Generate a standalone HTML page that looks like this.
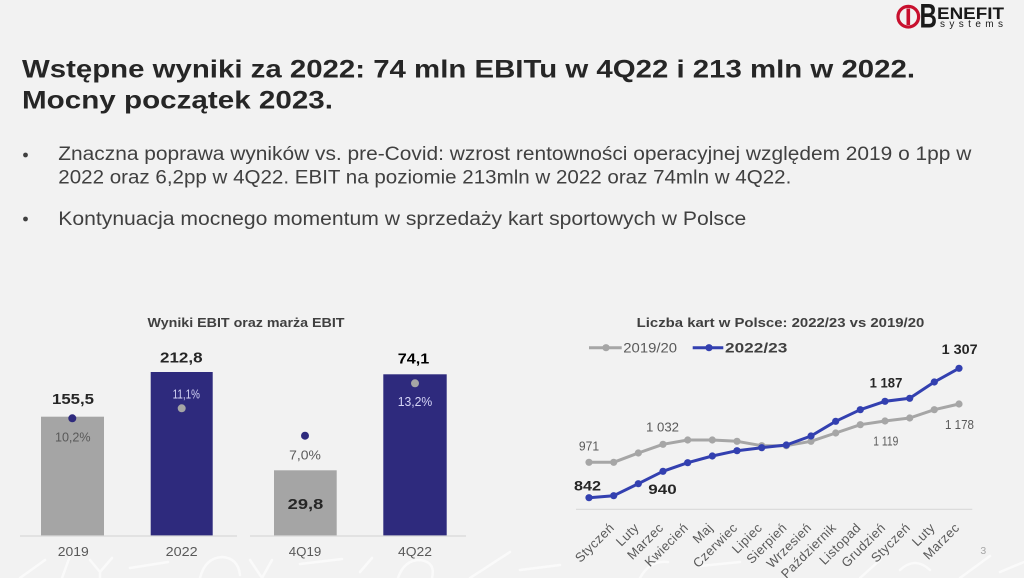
<!DOCTYPE html>
<html>
<head>
<meta charset="utf-8">
<style>
html,body{margin:0;padding:0;background:#f2f2f2;}
svg{display:block;}
text{font-family:"Liberation Sans",Arial,sans-serif;}
</style>
</head>
<body>
<svg width="1024" height="578" viewBox="0 0 1024 578" xmlns="http://www.w3.org/2000/svg">
<rect x="0" y="0" width="1024" height="578" fill="#f2f2f2"/>

<!-- faint bottom decorations -->
<g stroke="#fbfbfb" stroke-width="2.5" fill="none" stroke-linecap="round" opacity="0.9">
  <path d="M20 578 L45 560"/>
  <path d="M62 578 L70 556"/>
  <path d="M90 560 L100 572 L112 558 M100 572 L100 578"/>
  <path d="M130 568 L168 562"/>
  <path d="M200 578 Q205 558 222 557 Q238 558 240 575"/>
  <path d="M250 560 L262 578 L272 560"/>
  <path d="M300 564 L342 559"/>
  <path d="M360 572 L372 558"/>
  <path d="M398 578 Q404 560 420 560 Q436 562 432 578"/>
  <path d="M470 578 L510 552"/>
  <path d="M520 570 L560 565"/>
  <path d="M640 578 Q650 560 668 562"/>
  <path d="M700 566 L740 562"/>
  <path d="M860 578 L880 560"/>
  <path d="M900 570 Q915 556 930 570"/>
  <path d="M960 578 L990 556"/>
  <path d="M1000 572 L1024 562"/>
</g>

<!-- logo -->
<g>
  <circle cx="908.3" cy="16.7" r="10.3" fill="none" stroke="#c8102e" stroke-width="3.2"/>
  <rect x="906.5" y="8.5" width="3.6" height="16.5" fill="#c8102e"/>
  <text x="919.5" y="27.5" font-size="34" font-weight="bold" fill="#1a1a1a" textLength="17.5" lengthAdjust="spacingAndGlyphs">B</text>
  <text x="937" y="19" font-size="17" font-weight="bold" fill="#1a1a1a" textLength="67" lengthAdjust="spacingAndGlyphs">ENEFIT</text>
  <text x="940" y="27" font-size="10" fill="#1a1a1a" textLength="63" lengthAdjust="spacing">systems</text>
</g>

<!-- title -->
<text x="22" y="77.5" font-size="25" font-weight="bold" fill="#262626" textLength="893" lengthAdjust="spacingAndGlyphs">Wstępne wyniki za 2022: 74 mln EBITu w 4Q22 i 213 mln w 2022.</text>
<text x="22" y="108.5" font-size="25" font-weight="bold" fill="#262626" textLength="311" lengthAdjust="spacingAndGlyphs">Mocny początek 2023.</text>

<!-- bullets -->
<circle cx="25.5" cy="155" r="2.4" fill="#404040"/>
<text x="58.3" y="160" font-size="19" fill="#404040" textLength="913" lengthAdjust="spacingAndGlyphs">Znaczna poprawa wyników vs. pre-Covid: wzrost rentowności operacyjnej względem 2019 o 1pp w</text>
<text x="58.3" y="183.3" font-size="19" fill="#404040" textLength="733" lengthAdjust="spacingAndGlyphs">2022 oraz 6,2pp w 4Q22. EBIT na poziomie 213mln w 2022 oraz 74mln w 4Q22.</text>
<circle cx="25.5" cy="219" r="2.4" fill="#404040"/>
<text x="58.3" y="225" font-size="19" fill="#404040" textLength="688" lengthAdjust="spacingAndGlyphs">Kontynuacja mocnego momentum w sprzedaży kart sportowych w Polsce</text>

<!-- LEFT CHART -->
<text x="246" y="327" font-size="12.5" font-weight="bold" fill="#404040" text-anchor="middle" textLength="197" lengthAdjust="spacingAndGlyphs">Wyniki EBIT oraz marża EBIT</text>

<rect x="41" y="416.7" width="63" height="119.3" fill="#a5a5a5"/>
<rect x="150.7" y="372" width="62" height="164" fill="#2e2a7d"/>
<rect x="274" y="470.3" width="62.7" height="65.7" fill="#a5a5a5"/>
<rect x="383.3" y="374.3" width="63.4" height="161.7" fill="#2e2a7d"/>

<line x1="20" y1="536" x2="237" y2="536" stroke="#d9d9d9" stroke-width="1.2"/>
<line x1="250" y1="536" x2="466" y2="536" stroke="#d9d9d9" stroke-width="1.2"/>

<circle cx="72.3" cy="418.3" r="4" fill="#2e2a7d"/>
<circle cx="181.7" cy="408.3" r="4" fill="#a5a5a5"/>
<circle cx="305" cy="435.7" r="4" fill="#2e2a7d"/>
<circle cx="415" cy="383.3" r="4" fill="#a5a5a5"/>

<text x="73" y="404" font-size="14.5" font-weight="bold" fill="#262626" text-anchor="middle" textLength="42" lengthAdjust="spacingAndGlyphs">155,5</text>
<text x="181.3" y="362.7" font-size="14.5" font-weight="bold" fill="#262626" text-anchor="middle" textLength="42.5" lengthAdjust="spacingAndGlyphs">212,8</text>
<text x="413.5" y="363.3" font-size="14.5" font-weight="bold" fill="#000" text-anchor="middle" textLength="31.5" lengthAdjust="spacingAndGlyphs">74,1</text>
<text x="305.5" y="509" font-size="14.5" font-weight="bold" fill="#262626" text-anchor="middle" textLength="35.6" lengthAdjust="spacingAndGlyphs">29,8</text>

<text x="72.8" y="441.7" font-size="13" fill="#595959" text-anchor="middle" textLength="35.7" lengthAdjust="spacingAndGlyphs">10,2%</text>
<text x="186.3" y="398.3" font-size="13" fill="#d4d4f5" text-anchor="middle" textLength="27.3" lengthAdjust="spacingAndGlyphs">11,1%</text>
<text x="305" y="459.3" font-size="13" fill="#595959" text-anchor="middle" textLength="31.7" lengthAdjust="spacingAndGlyphs">7,0%</text>
<text x="415" y="406" font-size="13" fill="#d4d4f5" text-anchor="middle" textLength="34.6" lengthAdjust="spacingAndGlyphs">13,2%</text>

<text x="73.3" y="556" font-size="13" fill="#595959" text-anchor="middle" textLength="31" lengthAdjust="spacingAndGlyphs">2019</text>
<text x="181.7" y="556" font-size="13" fill="#595959" text-anchor="middle" textLength="32" lengthAdjust="spacingAndGlyphs">2022</text>
<text x="305" y="556" font-size="13" fill="#595959" text-anchor="middle" textLength="32.5" lengthAdjust="spacingAndGlyphs">4Q19</text>
<text x="415" y="556" font-size="13" fill="#595959" text-anchor="middle" textLength="34" lengthAdjust="spacingAndGlyphs">4Q22</text>

<!-- RIGHT CHART -->
<text x="780.5" y="327" font-size="13" font-weight="bold" fill="#404040" text-anchor="middle" textLength="287.6" lengthAdjust="spacingAndGlyphs">Liczba kart w Polsce: 2022/23 vs 2019/20</text>

<!-- legend -->
<line x1="589" y1="347.7" x2="621.7" y2="347.7" stroke="#a6a6a6" stroke-width="3"/>
<circle cx="606" cy="347.7" r="3.6" fill="#a6a6a6"/>
<text x="623.3" y="352.5" font-size="13.5" fill="#595959" textLength="53.7" lengthAdjust="spacingAndGlyphs">2019/20</text>
<line x1="692.7" y1="347.7" x2="723.3" y2="347.7" stroke="#3340b0" stroke-width="3"/>
<circle cx="709" cy="347.7" r="3.6" fill="#3340b0"/>
<text x="725" y="352.5" font-size="13.5" font-weight="bold" fill="#404040" textLength="62.3" lengthAdjust="spacingAndGlyphs">2022/23</text>

<line x1="576" y1="509.3" x2="972.3" y2="509.3" stroke="#d9d9d9" stroke-width="1.2"/>

<!-- grey series -->
<polyline fill="none" stroke="#a6a6a6" stroke-width="3" stroke-linejoin="round"
 points="589,462.3 613.7,462.3 638.3,453 663,444.3 687.7,440 712.3,440 737,441.3 761.7,445.7 786.3,445.7 811,441.3 835.7,433 860.3,424.7 885,421 909.7,418 934.3,409.7 959,404"/>
<g fill="#a6a6a6">
<circle cx="589" cy="462.3" r="3.6"/><circle cx="613.7" cy="462.3" r="3.6"/><circle cx="638.3" cy="453" r="3.6"/><circle cx="663" cy="444.3" r="3.6"/>
<circle cx="687.7" cy="440" r="3.6"/><circle cx="712.3" cy="440" r="3.6"/><circle cx="737" cy="441.3" r="3.6"/><circle cx="761.7" cy="445.7" r="3.6"/>
<circle cx="786.3" cy="445.7" r="3.6"/><circle cx="811" cy="441.3" r="3.6"/><circle cx="835.7" cy="433" r="3.6"/><circle cx="860.3" cy="424.7" r="3.6"/>
<circle cx="885" cy="421" r="3.6"/><circle cx="909.7" cy="418" r="3.6"/><circle cx="934.3" cy="409.7" r="3.6"/><circle cx="959" cy="404" r="3.6"/>
</g>

<!-- blue series -->
<polyline fill="none" stroke="#3340b0" stroke-width="3" stroke-linejoin="round"
 points="589,497.7 613.7,495.7 638.3,483.7 663,471.3 687.7,462.7 712.3,456 737,450.7 761.7,447.7 786.3,445 811,436 835.7,421.3 860.3,409.7 885,401.3 909.7,398.3 934.3,382 959,368.3"/>
<g fill="#3340b0">
<circle cx="589" cy="497.7" r="3.6"/><circle cx="613.7" cy="495.7" r="3.6"/><circle cx="638.3" cy="483.7" r="3.6"/><circle cx="663" cy="471.3" r="3.6"/>
<circle cx="687.7" cy="462.7" r="3.6"/><circle cx="712.3" cy="456" r="3.6"/><circle cx="737" cy="450.7" r="3.6"/><circle cx="761.7" cy="447.7" r="3.6"/>
<circle cx="786.3" cy="445" r="3.6"/><circle cx="811" cy="436" r="3.6"/><circle cx="835.7" cy="421.3" r="3.6"/><circle cx="860.3" cy="409.7" r="3.6"/>
<circle cx="885" cy="401.3" r="3.6"/><circle cx="909.7" cy="398.3" r="3.6"/><circle cx="934.3" cy="382" r="3.6"/><circle cx="959" cy="368.3" r="3.6"/>
</g>

<!-- data labels -->
<text x="589" y="450.5" font-size="13" fill="#595959" text-anchor="middle" textLength="20.3" lengthAdjust="spacingAndGlyphs">971</text>
<text x="662.5" y="431.5" font-size="13" fill="#595959" text-anchor="middle" textLength="33" lengthAdjust="spacingAndGlyphs">1 032</text>
<text x="885.8" y="445.5" font-size="13" fill="#595959" text-anchor="middle" textLength="25" lengthAdjust="spacingAndGlyphs">1 119</text>
<text x="959.5" y="429" font-size="13" fill="#595959" text-anchor="middle" textLength="29" lengthAdjust="spacingAndGlyphs">1 178</text>
<text x="886" y="387.5" font-size="13.5" font-weight="bold" fill="#262626" text-anchor="middle" textLength="32.7" lengthAdjust="spacingAndGlyphs">1 187</text>
<text x="959.7" y="354" font-size="13.5" font-weight="bold" fill="#262626" text-anchor="middle" textLength="36" lengthAdjust="spacingAndGlyphs">1 307</text>
<text x="587.5" y="490.5" font-size="13.5" font-weight="bold" fill="#262626" text-anchor="middle" textLength="27" lengthAdjust="spacingAndGlyphs">842</text>
<text x="662.5" y="494" font-size="13.5" font-weight="bold" fill="#262626" text-anchor="middle" textLength="28.4" lengthAdjust="spacingAndGlyphs">940</text>

<!-- rotated category labels -->
<g font-size="13" fill="#595959" text-anchor="end" letter-spacing="0.4">
<text transform="translate(615,528.5) rotate(-45)">Styczeń</text>
<text transform="translate(639.7,528.5) rotate(-45)">Luty</text>
<text transform="translate(664.3,528.5) rotate(-45)">Marzec</text>
<text transform="translate(689,528.5) rotate(-45)">Kwiecień</text>
<text transform="translate(713.7,528.5) rotate(-45)">Maj</text>
<text transform="translate(738.3,528.5) rotate(-45)">Czerwiec</text>
<text transform="translate(763,528.5) rotate(-45)">Lipiec</text>
<text transform="translate(787.7,528.5) rotate(-45)">Sierpień</text>
<text transform="translate(812.3,528.5) rotate(-45)">Wrzesień</text>
<text transform="translate(837,528.5) rotate(-45)">Październik</text>
<text transform="translate(861.7,528.5) rotate(-45)">Listopad</text>
<text transform="translate(886.3,528.5) rotate(-45)">Grudzień</text>
<text transform="translate(911,528.5) rotate(-45)">Styczeń</text>
<text transform="translate(935.7,528.5) rotate(-45)">Luty</text>
<text transform="translate(960.3,528.5) rotate(-45)">Marzec</text>
</g>

<text x="983.3" y="554" font-size="10.5" fill="#a6a6a6" text-anchor="middle">3</text>
</svg>
</body>
</html>
